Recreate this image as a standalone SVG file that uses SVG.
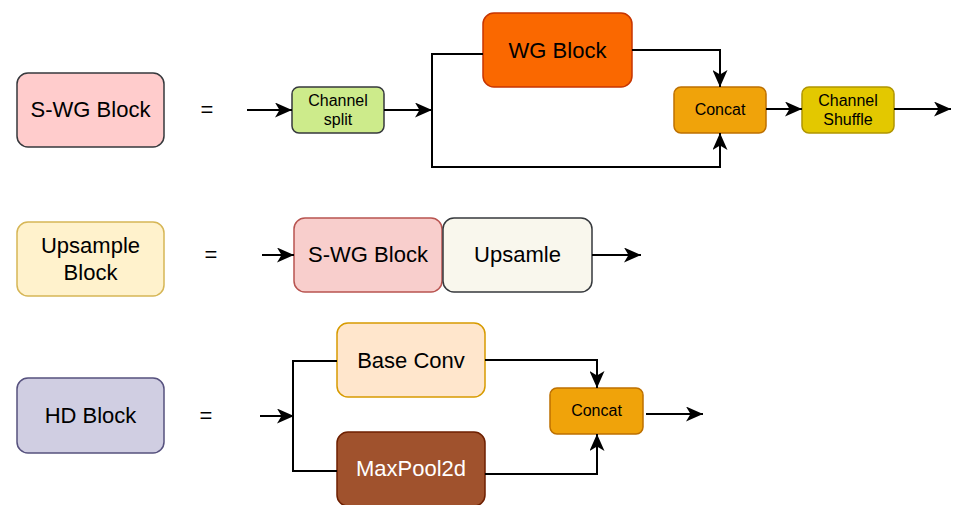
<svg xmlns="http://www.w3.org/2000/svg" width="953" height="505" viewBox="0 0 953 505">
  <style>
    text { font-family: "Liberation Sans", Arial, sans-serif; fill: #000; text-anchor: middle; dominant-baseline: central; }
    .big { font-size: 22px; }
    .small { font-size: 16px; }
    .eq { font-size: 22px; }
    .box { stroke-width: 1.5; }
    .edge { fill: none; stroke: #000; stroke-width: 2; }
  </style>
  <defs>
    <marker id="arrow" markerUnits="userSpaceOnUse" markerWidth="17" markerHeight="15" refX="17" refY="7.5" orient="auto">
      <path d="M0,0 L17,7.5 L0,15 L4.5,7.5 Z" fill="#000"/>
    </marker>
  </defs>
  <rect width="953" height="505" fill="#ffffff"/>

  <!-- Row 1: S-WG Block definition -->
  <g id="swg-label">
    <rect class="box" x="17" y="73" width="147" height="74" rx="11" fill="#ffcccc" stroke="#36393d"/>
    <text class="big" x="90.5" y="109">S-WG Block</text>
  </g>
  <g id="eq-1"><text class="eq" x="207" y="109">=</text></g>
  <g id="channel-split">
    <rect class="box" x="292" y="87" width="92" height="46" rx="7" fill="#cdeb8b" stroke="#36393d"/>
    <text class="small" x="338" y="100">Channel</text>
    <text class="small" x="338" y="119">split</text>
  </g>
  <g id="wg-block">
    <rect class="box" x="483" y="13" width="149" height="74" rx="11" fill="#fa6800" stroke="#c73500"/>
    <text class="big" x="557.5" y="50">WG Block</text>
  </g>
  <g id="concat-1">
    <rect class="box" x="674" y="87" width="92" height="46" rx="7" fill="#f0a30a" stroke="#bd7000"/>
    <text class="small" x="720" y="109">Concat</text>
  </g>
  <g id="channel-shuffle">
    <rect class="box" x="802" y="87" width="92" height="46" rx="7" fill="#e3c800" stroke="#b09500"/>
    <text class="small" x="848" y="100">Channel</text>
    <text class="small" x="848" y="119">Shuffle</text>
  </g>

  <!-- Row 2: Upsample Block definition -->
  <g id="upsample-label">
    <rect class="box" x="17" y="222" width="147" height="74" rx="11" fill="#fff2cc" stroke="#d6b656"/>
    <text class="big" x="90.5" y="245">Upsample</text>
    <text class="big" x="90.5" y="272">Block</text>
  </g>
  <g id="eq-2"><text class="eq" x="211" y="254">=</text></g>
  <g id="swg-block">
    <rect class="box" x="294" y="218" width="148" height="74" rx="11" fill="#f8cecc" stroke="#b85450"/>
    <text class="big" x="368" y="254">S-WG Block</text>
  </g>
  <g id="upsample">
    <rect class="box" x="443" y="218" width="149" height="74" rx="11" fill="#f9f7ed" stroke="#36393d"/>
    <text class="big" x="517.5" y="254">Upsamle</text>
  </g>

  <!-- Row 3: HD Block definition -->
  <g id="hd-label">
    <rect class="box" x="17" y="378" width="147" height="75" rx="11" fill="#d0cee2" stroke="#56517e"/>
    <text class="big" x="90.5" y="415">HD Block</text>
  </g>
  <g id="eq-3"><text class="eq" x="206" y="415">=</text></g>
  <g id="base-conv">
    <rect class="box" x="337" y="323" width="148" height="74" rx="11" fill="#ffe6cc" stroke="#d79b00"/>
    <text class="big" x="411" y="360">Base Conv</text>
  </g>
  <g id="maxpool">
    <rect class="box" x="337" y="432" width="148" height="74" rx="11" fill="#a0522d" stroke="#6d1f00"/>
    <text class="big" x="411" y="468" style="fill:#ffffff">MaxPool2d</text>
  </g>
  <g id="concat-2">
    <rect class="box" x="550" y="388" width="93" height="46" rx="7" fill="#f0a30a" stroke="#bd7000"/>
    <text class="small" x="596.5" y="410">Concat</text>
  </g>

  <!-- Connectors -->
  <g id="connectors">
    <path class="edge" d="M247,110 L292,110" marker-end="url(#arrow)"/>
    <path class="edge" d="M384,110 L432,110" marker-end="url(#arrow)"/>
    <path class="edge" d="M483,54 L432,54 L432,167 L720,167 L720,133" marker-end="url(#arrow)"/>
    <path class="edge" d="M632,50 L720,50 L720,87" marker-end="url(#arrow)"/>
    <path class="edge" d="M766,109 L802,109" marker-end="url(#arrow)"/>
    <path class="edge" d="M894,109 L951,109" marker-end="url(#arrow)"/>

    <path class="edge" d="M262,255 L294,255" marker-end="url(#arrow)"/>
    <path class="edge" d="M592,255 L641,255" marker-end="url(#arrow)"/>

    <path class="edge" d="M260,416 L294,416" marker-end="url(#arrow)"/>
    <path class="edge" d="M337,361 L293,361 L293,471 L337,471"/>
    <path class="edge" d="M485,360 L597,360 L597,388" marker-end="url(#arrow)"/>
    <path class="edge" d="M485,474 L597,474 L597,434" marker-end="url(#arrow)"/>
    <path class="edge" d="M646,414 L703,414" marker-end="url(#arrow)"/>
  </g>
</svg>
